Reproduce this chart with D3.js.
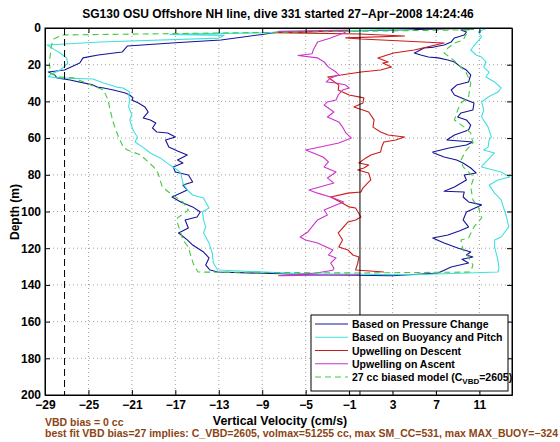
<!DOCTYPE html>
<html>
<head>
<meta charset="utf-8">
<script src="https://cdn.jsdelivr.net/npm/d3@7"></script>
<style>
  html, body { margin: 0; padding: 0; background: #fff; }
  svg { display: block; font-family: "Liberation Sans", Arial, Helvetica, sans-serif; }
  text { font-weight: bold; }
</style>
</head>
<body>
<svg id="chart" width="560" height="442"></svg>
<script>
// ---------------- DATA ([depth m, vertical velocity cm/s]) ----------------
const titleText = "SG130 OSU Offshore NH line, dive 331 started 27\u2212Apr\u22122008 14:24:46";
const xTicks = [-29, -25, -21, -17, -13, -9, -5, -1, 3, 7, 11];
const yTicks = [0, 20, 40, 60, 80, 100, 120, 140, 160, 180, 200];
const xDomain = [-29, 14];
const yDomain = [0, 200];
const neutralVel = -27.2;   // dashed black reference line
const zeroVel = 0;          // solid black reference line

const pressureChange = [
  [0.3, 9.5], [1.5, 0], [2.2, -7.5], [3.5, -9], [6.5, -12.8], [8, -17], [9.8, -21.4], [13.1, -21.9],
  [14.7, -24.1], [16.3, -25.5], [19.1, -25.8], [21, -26.5], [22.9, -27.2], [24, -28.7], [25.6, -28.1],
  [27.2, -27.9], [28.3, -26.7], [31, -24.6], [32.2, -24.2], [32.7, -23.6], [33.8, -22.7], [35.4, -21.6],
  [36.5, -21.2], [38.1, -20.9], [39.2, -21.0], [40.9, -20.4], [43, -19.8], [45.8, -19.5], [49, -19.95],
  [50.1, -19.3], [51.8, -18.8], [54.5, -19.1], [56.7, -18.7], [57.2, -17.7], [59.4, -17.0], [61, -17.9],
  [64.9, -17.6], [67, -16.8], [69.2, -15.9], [71.9, -16.8], [73.6, -16.3], [75.7, -17.2], [78.5, -17.0],
  [80.1, -15.8], [83.9, -15.4], [85.6, -16.3], [88.3, -15.9], [92.1, -17.3], [94.8, -16.5], [97.5, -15.4],
  [100.3, -14.7], [103, -15.0], [104.6, -16.1], [109, -15.8], [111.7, -16.7], [115.5, -15.9], [118.3, -15.4],
  [122.1, -14.4], [125.3, -13.9], [129.2, -14.2], [131.9, -13.8], [133, -13.1], [134.5, -4], [135, 3],
  [133.5, 7.2], [130.2, 8.4], [128.1, 10.0], [126, 9.4], [124.8, 10.4], [123.7, 9.8], [122.1, 10.2],
  [119.9, 9.0], [117.2, 7.75], [114.4, 6.7], [112.8, 8.1], [110.5, 9.2], [108.4, 10.0], [104.6, 9.5],
  [100.3, 9.8], [96.4, 11.2], [94.8, 10.0], [92.1, 9.5], [89.4, 9.6], [89, 7.75], [86.6, 8.7], [82.8, 9.8],
  [80.1, 9.6], [79, 10.7], [76.3, 10.2], [73.6, 9.5], [71.9, 8.9], [70.3, 7.75], [68.1, 6.8], [67.6, 6.7],
  [65.4, 8.2], [63.8, 9.8], [62.1, 10.4], [61, 8.0], [58.3, 8.7], [55.6, 10.0], [52.9, 10.2], [50.1, 9.8],
  [48.5, 9.0], [46.3, 9.3], [44.7, 10.4], [40.9, 10.5], [39.2, 9.8], [36.5, 8.7], [33.8, 8.4], [31.1, 8.9],
  [29.4, 10.0], [25.6, 10.2], [22.9, 9.8], [21.3, 9.3], [18.5, 8.7], [17.4, 8.1], [16.3, 7.2], [15.8, 6.3],
  [14.7, 5.6], [13.6, 5.0], [13.1, 5.2], [10.9, 5.9], [10.4, 6.8], [9.3, 7.75], [7.6, 8.4], [5.4, 8.7],
  [3.8, 9.6], [2.2, 9.8], [1.1, 9.3], [0.5, 10.5]
];

const buoyancyPitch = [
  [0.5, 5], [2.5, -8], [3.5, -17.5], [4, -12.5], [5.5, -13], [7.6, -23.9], [9.3, -28.8], [11.5, -28.2],
  [13.6, -27.6], [16.5, -27.0], [19.1, -26.9], [21, -27.2], [22.9, -27.6], [25, -28.4], [26.5, -28.7],
  [27.2, -27.8], [27.8, -24.6], [30, -23.6], [32.2, -22.4], [32.7, -21.8], [34.9, -21.2], [36.5, -21.3],
  [39.2, -21.2], [43, -21.3], [47.4, -21.0], [50.1, -21.2], [55.6, -20.9], [59.4, -20.5], [62.1, -20.7],
  [64.9, -20.0], [68.1, -19.3], [70.8, -18.4], [74.7, -17.5], [77.4, -16.8], [79, -16.5], [84.5, -16.3],
  [88.3, -15.9], [91, -15.4], [92.6, -14.4], [95, -14.2], [98.1, -13.9], [100.3, -14.5], [104.6, -14.4],
  [108.4, -14.2], [111.7, -14.4], [117.2, -13.9], [122.6, -13.6], [128.1, -13.5], [131.9, -13.1],
  [134, -5], [134.5, 5], [133, 12.7], [130.8, 12.8], [126.4, 12.7], [119.3, 12.4], [115.5, 12.4],
  [113.9, 13.0], [108.4, 13.7], [103, 13.5], [97.5, 13.2], [93.7, 13.0], [90, 12.4], [85.6, 11.9],
  [82.8, 12.7], [81.2, 13.8], [78.5, 13.0], [75.7, 11.2], [74.7, 11.3], [68.1, 12.4], [66.5, 11.4],
  [64.9, 11.8], [61, 11.9], [59.4, 12.1], [54, 11.8], [48.5, 11.2], [44.7, 11.4], [40.3, 11.2], [37.6, 11.8],
  [34.9, 12.7], [32.7, 13.0], [29.4, 12.4], [26.7, 11.6], [24, 11.9], [21.3, 11.4], [18.5, 11.6],
  [15.8, 11.2], [14.7, 10.7], [12, 10.2], [8.2, 10.7], [4.9, 11.2], [2.2, 10.9], [0.3, 11.6]
];

const upwellingDescent = [
  [1.5, -1], [2.5, -8], [3.3, 0], [4.4, 4.1], [5.4, -1.3], [6, 0.1], [8.2, 7.75], [12, 5.0], [13.6, 3.1],
  [16.3, 1.65], [18.5, 2.6], [19.1, 2.1], [21.3, 2.9], [22.9, 1.9], [24, 0.1], [26.7, -2.96], [31.1, -1.95],
  [33.8, -2.0], [36.5, -1.0], [38.1, 0.36], [40.9, 0.27], [43, -0.56], [45.8, 0.8], [50.1, 1.3], [54, 1.2],
  [56.7, 1.9], [58.3, 2.6], [59.4, 4.1], [61, 3.3], [62.1, 2.2], [64.9, 2.0], [67.6, 1.9], [69.2, 1.0],
  [70.8, 0.55], [73.6, -0.1], [74.7, 0.8], [76.3, 0.36], [77.4, -0.2], [79, 0.8], [82.8, 1.0], [84.5, 0.7],
  [87.2, 0.27], [89.4, 0.09], [90, -1.1], [92.1, -2.7], [94.8, -1.8], [97.5, -1.0], [98.1, -0.4], [103, 0.09],
  [104.6, -0.4], [105.7, -1.1], [109, -1.6], [111.7, -2.0], [115.5, -1.6], [119.3, -1.95], [121, -1.1],
  [123.7, -0.65], [124.8, -0.1], [128.1, -0.2], [131.9, -0.4], [133, 2.2]
];

const upwellingAscent = [
  [134.5, 0], [135, -7.5], [133.5, -4], [132, -2.5], [130.8, -2.4], [128.1, -2.7], [125.3, -2.2],
  [123.7, -2.9], [121, -2.5], [117.2, -3.9], [115.5, -5.0], [113.9, -5.5], [111.2, -4.8], [107.4, -4.3],
  [104.6, -3.9], [101.9, -3.0], [99.2, -3.3], [96.5, -2.2], [94.8, -1.5], [92.1, -2.7], [90, -3.9],
  [88.3, -4.7], [84.5, -2.4], [81.7, -3.0], [78.5, -2.2], [75.7, -3.3], [73, -2.9], [70.3, -3.4],
  [68.1, -4.3], [66.5, -5.0], [65.4, -4.1], [62.7, -1.95], [59.9, -0.8], [57.2, -1.3], [54, -1.6],
  [51.2, -1.95], [48.5, -3.0], [45.8, -2.4], [42, -3.3], [40.3, -3.0], [39.2, -2.2], [36.5, -2.0],
  [33.8, -1.6], [32.7, -1.0], [31.1, -1.3], [30, -2.2], [29.4, -3.1], [27.2, -2.7], [25.6, -1.95],
  [24, -2.2], [21.3, -2.9], [18.5, -3.3], [16.3, -3.9], [15, -5.7], [14, -4.4], [12, -4.3], [7.6, -3.9],
  [5.4, -2.7], [2.7, -1.5], [1.1, -1.0], [1.8, -7.5]
];

const biasedModel = [
  [1, 10], [2.2, -5.5], [3.8, -27.4], [6, -28.2], [9.3, -28.4], [14, -28.5], [19, -28.6], [24.5, -28.5],
  [26.7, -27.8], [27.2, -26.4], [31, -24.8], [33.8, -23.6], [39.2, -23.2], [44.7, -23.0], [51.8, -22.7],
  [58.3, -22.3], [61, -22.1], [64.9, -21.8], [66.5, -21.4], [69.2, -20.2], [75.7, -19.0], [79, -18.6],
  [86.6, -18.2], [90, -17.5], [94.8, -16.3], [99.2, -15.8], [103.5, -16.8], [106.3, -16.8], [111.7, -16.5],
  [115.5, -16.3], [119.3, -15.8], [123.7, -15.6], [129.2, -15.3], [133, -14.9], [133.5, 0], [133, 10.2],
  [129.2, 10.4], [124.8, 10.0], [121, 9.5], [115.5, 9.3], [114.4, 10.0], [108.4, 10.5], [103.5, 11.2],
  [97.5, 10.9], [93.7, 10.4], [86.6, 10.2], [81.2, 10.5], [75.7, 9.5], [71.9, 9.3], [66.5, 9.8],
  [62.7, 10.4], [57.2, 10.2], [54, 9.6], [50.1, 8.7], [44.7, 9.0], [40.9, 9.3], [37.6, 10.0], [33.8, 10.1],
  [30, 10.2], [24.5, 9.8], [21.3, 9.3], [17.4, 8.6], [13.6, 7.75], [10.9, 8.1], [8.2, 8.7], [6.5, 9.5],
  [1.1, 10.0], [0.3, 10.5]
];

const seriesNames = ["Based on Pressure Change", "Based on Buoyancy and Pitch", "Upwelling on Descent", "Upwelling on Ascent", "27 cc biased model"];
const seriesColors = ["#14149a", "#40e0e0", "#cc1a1a", "#cc33cc", "#3fcc3f"];
const footLine1 = "VBD bias = 0 cc";
const footLine2 = "best fit VBD bias=27 implies: C_VBD=2605, volmax=51255 cc, max SM_CC=531, max MAX_BUOY=\u2212324";

// ---------------- DRAW ----------------
const svg = d3.select("#chart");
const L = 45, R = 512, T = 28, B = 395;
const x = d3.scaleLinear().domain(xDomain).range([L, R]);
const y = d3.scaleLinear().domain(yDomain).range([T, B]);

svg.append("rect").attr("x", 0).attr("y", 0).attr("width", 560).attr("height", 442).attr("fill", "#fff");
svg.append("rect").attr("x", L).attr("y", T).attr("width", R - L).attr("height", B - T).attr("fill", "#fff");

// grid
const grid = svg.append("g").attr("stroke", "#8a8a8a").attr("stroke-width", 0.8).attr("stroke-dasharray", "1,3");
grid.selectAll(".gx").data(xTicks.filter(t => t > xDomain[0])).join("line")
  .attr("x1", d => x(d)).attr("x2", d => x(d)).attr("y1", T).attr("y2", B);
grid.selectAll(".gy").data(yTicks.filter(t => t > yDomain[0] && t < yDomain[1])).join("line")
  .attr("x1", L).attr("x2", R).attr("y1", d => y(d)).attr("y2", d => y(d));

// series lines
const line = d3.line().x(d => x(d[1])).y(d => y(d[0]));
const allSeries = [pressureChange, buoyancyPitch, upwellingDescent, upwellingAscent, biasedModel];
const plot = svg.append("g");
allSeries.forEach((s, i) => {
  plot.append("path").datum(s).attr("d", line).attr("fill", "none")
    .attr("stroke", seriesColors[i]).attr("stroke-width", 1.1)
    .attr("stroke-linejoin", "round")
    .attr("stroke-dasharray", i === 4 ? "6,4" : null);
});

// reference lines
svg.append("line").attr("x1", x(zeroVel)).attr("x2", x(zeroVel)).attr("y1", T).attr("y2", B)
  .attr("stroke", "#000").attr("stroke-width", 1);
svg.append("line").attr("x1", x(neutralVel)).attr("x2", x(neutralVel)).attr("y1", T).attr("y2", B)
  .attr("stroke", "#000").attr("stroke-width", 1).attr("stroke-dasharray", "7,4");

// axes
const fmt = d3.format("");
const ax = (g) => g.selectAll("text").style("font-size", "12px").style("font-weight", "bold").attr("fill", "#000");
svg.append("g").attr("transform", `translate(0,${B})`)
  .call(d3.axisBottom(x).tickValues(xTicks).tickFormat(fmt).tickSizeInner(-5).tickSizeOuter(0).tickPadding(5))
  .call(ax).call(g => g.select(".domain").attr("stroke", "#000"));
svg.append("g").attr("transform", `translate(0,${T})`)
  .call(d3.axisTop(x).tickValues(xTicks).tickFormat("").tickSizeInner(-5).tickSizeOuter(0));
svg.append("g").attr("transform", `translate(${L},0)`)
  .call(d3.axisLeft(y).tickValues(yTicks).tickFormat(fmt).tickSizeInner(-5).tickSizeOuter(0).tickPadding(4))
  .call(ax);
svg.append("g").attr("transform", `translate(${R},0)`)
  .call(d3.axisRight(y).tickValues(yTicks).tickFormat("").tickSizeInner(-5).tickSizeOuter(0));
svg.selectAll(".tick line").attr("stroke", "#000");
svg.append("rect").attr("x", L).attr("y", T).attr("width", R - L).attr("height", B - T)
  .attr("fill", "none").attr("stroke", "#000").attr("stroke-width", 1);

// title & labels
svg.append("text").attr("x", 278).attr("y", 18).attr("text-anchor", "middle")
  .style("font-size", "12px").text(titleText);
svg.append("text").attr("x", 280).attr("y", 425).attr("text-anchor", "middle")
  .style("font-size", "12.4px").text("Vertical Velocity (cm/s)");
svg.append("text").attr("transform", "translate(19,212) rotate(-90)").attr("text-anchor", "middle")
  .style("font-size", "12px").text("Depth (m)");
svg.append("text").attr("x", 45).attr("y", 426).style("font-size", "10.5px").attr("fill", "#8b4513").text(footLine1);
svg.append("text").attr("x", 45).attr("y", 437).style("font-size", "10.5px").attr("fill", "#8b4513").text(footLine2);

// legend
const lg = svg.append("g");
lg.append("rect").attr("x", 311).attr("y", 315).attr("width", 197).attr("height", 76)
  .attr("fill", "#fff").attr("stroke", "#000").attr("stroke-width", 1);
const rowY = d3.scaleLinear().domain([0, 4]).range([324, 377]);
seriesNames.forEach((n, i) => {
  lg.append("line").attr("x1", 315).attr("x2", 348).attr("y1", rowY(i)).attr("y2", rowY(i))
    .attr("stroke", seriesColors[i]).attr("stroke-width", 1.2).attr("stroke-dasharray", i === 4 ? "6,4" : null);
  const t = lg.append("text").attr("x", 352).attr("y", rowY(i) + 4).style("font-size", "10.5px").text(n);
  if (i === 4) {
    t.append("tspan").text(" (C");
    t.append("tspan").attr("dy", 3).style("font-size", "8px").text("VBD");
    t.append("tspan").attr("dy", -3).text("=2605)");
  }
});
</script>
</body>
</html>
